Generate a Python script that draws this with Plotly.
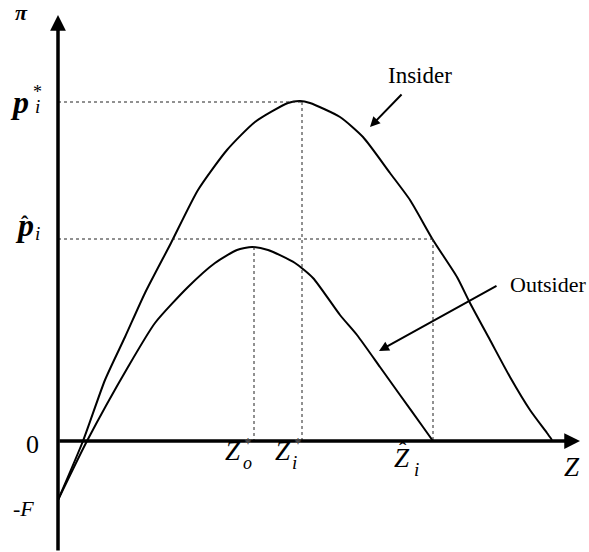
import plotly.graph_objects as go

# Profit curves (Z on the x axis, profit pi on the y axis)
insider_z = [0, 25, 47, 67, 87, 113, 140, 169, 197, 230, 242, 252, 282, 305, 332, 352, 375, 399, 412, 432, 452, 472, 489, 494]
insider_pi = [-59, 0, 61, 104, 148, 198, 251, 291, 319, 338, 340, 338, 324, 304, 268, 241, 201, 164, 138, 101, 64, 31, 8, 1]

outsider_z = [0, 29, 70, 97, 130, 157, 179, 194, 210, 237, 255, 282, 299, 322, 342, 365, 375]
outsider_pi = [-59, 0, 74, 118, 154, 178, 191, 194, 191, 178, 163, 126, 106, 74, 46, 14, 0]

# key levels
fixed_cost = 59
pi_star, zi_star = 339, 244
zo_star, pi_o_peak = 196, 194
p_hat, z_hat = 202, 375

FONT = "Liberation Serif"

fig = go.Figure()

curve = dict(color="black", width=2, shape="spline", smoothing=0.6)
fig.add_trace(go.Scatter(x=insider_z, y=insider_pi, mode="lines", line=curve, name="Insider"))
fig.add_trace(go.Scatter(x=outsider_z, y=outsider_pi, mode="lines", line=curve, name="Outsider"))

# dotted guide lines
dot = dict(color="#222", width=1, dash="dot")
guides = [
    ([0, zi_star], [pi_star, pi_star]),
    ([zi_star, zi_star], [pi_star, 0]),
    ([0, z_hat], [p_hat, p_hat]),
    ([z_hat, z_hat], [p_hat, 0]),
    ([zo_star, zo_star], [pi_o_peak, 0]),
]
for gx, gy in guides:
    fig.add_trace(go.Scatter(x=gx, y=gy, mode="lines", line=dot, hoverinfo="skip"))


def arrow(x, y, ax, ay, width, size):
    fig.add_annotation(x=x, y=y, ax=ax, ay=ay, xref="x", yref="y", axref="x", ayref="y",
                       text="", showarrow=True, arrowhead=2, arrowsize=size,
                       arrowwidth=width, arrowcolor="black")


# axes with arrow heads
arrow(0, 426, 0, -111, 3.5, 0.9)
arrow(522, 0, 0, 0, 3.5, 0.9)

# pointers to the curves
arrow(312, 314, 345, 348, 2, 1)
arrow(321, 90, 440, 156, 2, 1)


def label(x, y, text, size, italic=True, bold=False, color="black"):
    t = text
    if bold:
        t = "<b>" + t + "</b>"
    if italic:
        t = "<i>" + t + "</i>"
    fig.add_annotation(x=x, y=y, xref="x", yref="y", text=t, showarrow=False,
                       xanchor="center", yanchor="middle",
                       font=dict(family=FONT, size=size, color=color))


label(-37, 429, "π", 22, bold=True)
# p_i*
label(-39, 339, "p", 32, bold=True)
label(-21, 335, "i", 19)
label(-21, 349, "*", 18, italic=False)
# p-hat_i
label(-34, 216, "p", 32, bold=True)
label(-33, 218, "ˆ", 22, italic=False, bold=True)
label(-21, 208, "i", 19)

label(-26, -3, "0", 26, italic=False)
label(-35, -67, "-F", 22)

# Z labels under the axis
label(174.5, -9.5, "Z", 27)
label(189.5, -22, "o", 18)
label(190, -2, "*", 16, italic=False, color="#555")
label(224.5, -9.5, "Z", 27)
label(236.5, -21.5, "i", 19)
label(240, -2, "*", 16, italic=False, color="#555")
label(344, -17, "Z", 27)
label(345, -8, "ˆ", 22, italic=False, bold=True)
label(358.5, -28.5, "i", 19)
label(514, -26, "Z", 27)

label(362, 366, "Insider", 23, italic=False)
label(490, 157, "Outsider", 22, italic=False)

fig.update_layout(
    width=589, height=552,
    margin=dict(l=0, r=0, t=0, b=0),
    paper_bgcolor="white", plot_bgcolor="white",
    showlegend=False,
    xaxis=dict(range=[-58, 531], visible=False, fixedrange=True),
    yaxis=dict(range=[-111, 441], visible=False, fixedrange=True),
)

# drop the default page margin so the figure fills the window exactly
fig.write_html("out.html", config={"displayModeBar": False},
               post_script="document.body.style.margin='0';document.body.style.overflow='hidden';")
